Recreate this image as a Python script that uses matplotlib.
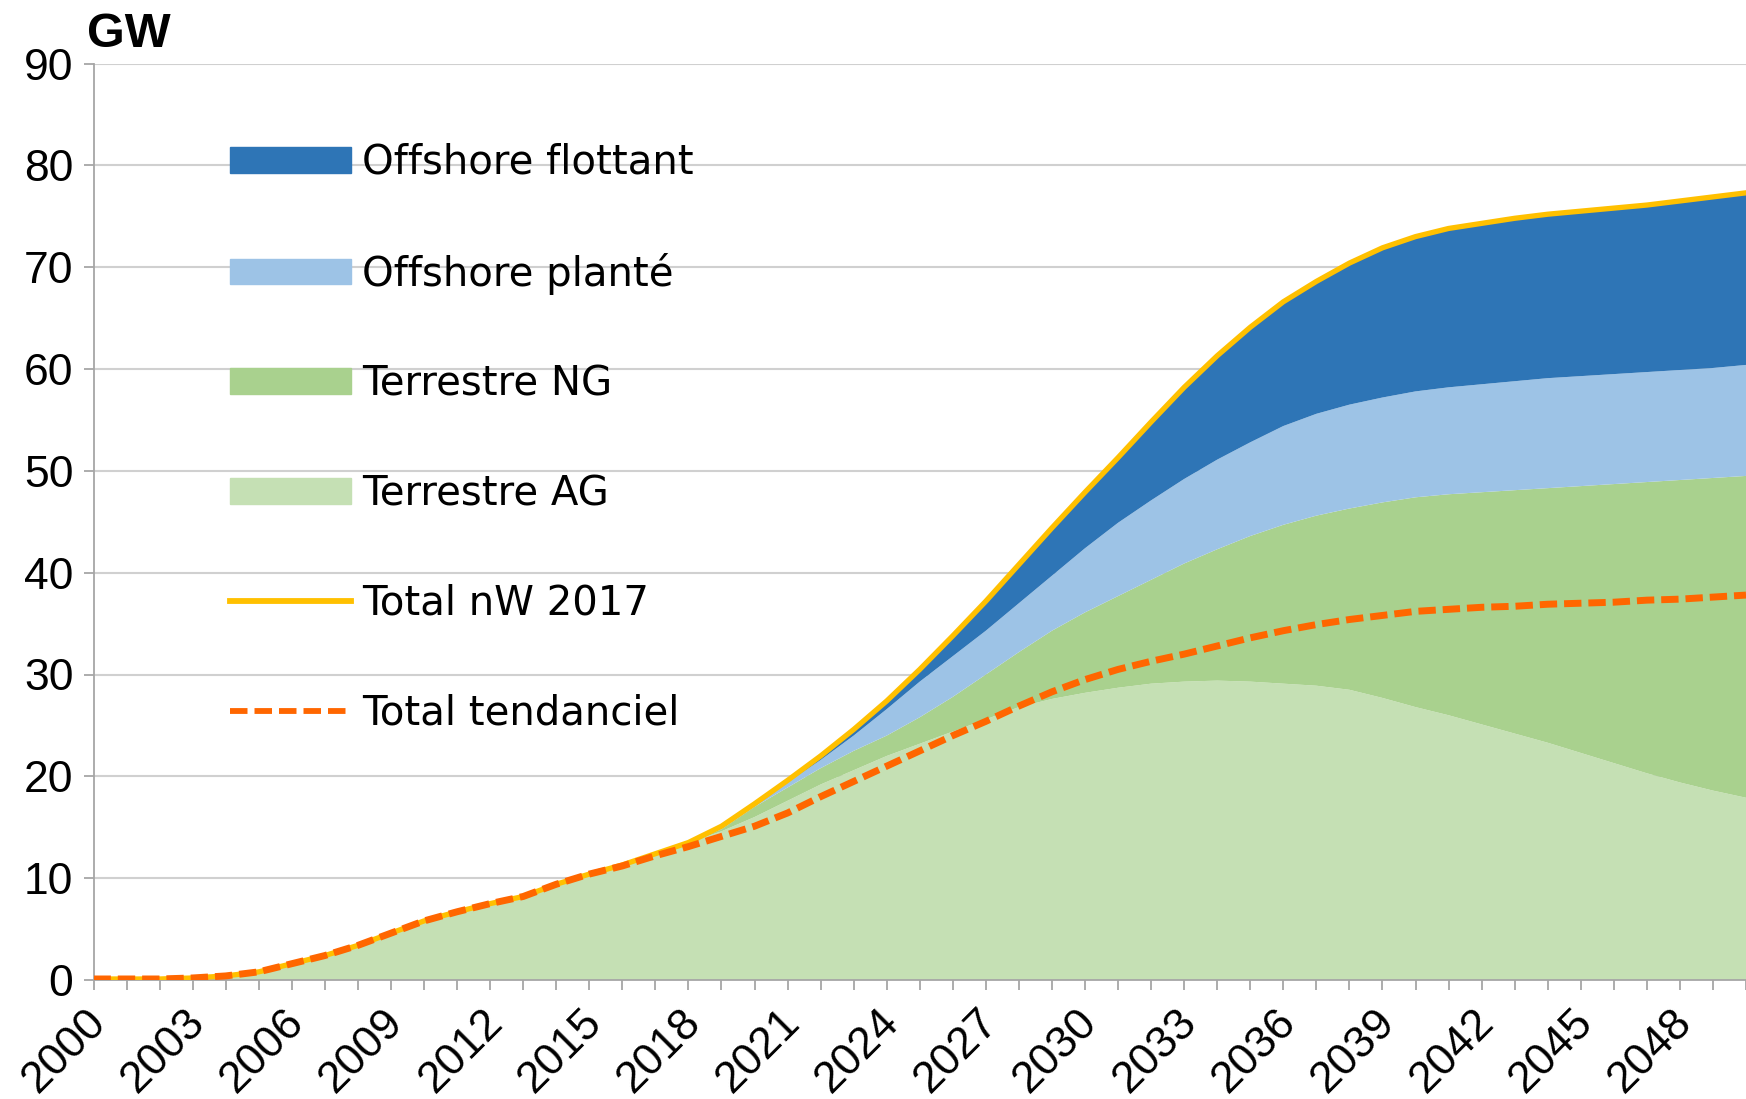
import numpy as np
import matplotlib
matplotlib.use("Agg")
import matplotlib.pyplot as plt
import matplotlib.transforms as mtransforms
from matplotlib.patches import Patch
from matplotlib.lines import Line2D

# years 2000..2050
years = list(range(2000, 2051))

# stacked layers (GW)
terrestre_ag = [0.1, 0.1, 0.1, 0.2, 0.4, 0.8, 1.6, 2.4, 3.4, 4.6,
                5.8, 6.7, 7.5, 8.2, 9.4, 10.4, 11.3, 12.4, 13.5, 14.6,
                16.0, 17.6, 19.2, 20.6, 22.0, 23.2, 24.4, 25.6, 26.8, 27.6,
                28.2, 28.7, 29.1, 29.3, 29.4, 29.3, 29.1, 28.9, 28.5, 27.7,
                26.8, 26.0, 25.1, 24.2, 23.3, 22.3, 21.3, 20.3, 19.4, 18.6,
                17.9]
terrestre_ng = [0, 0, 0, 0, 0, 0, 0, 0, 0, 0,
                0, 0, 0, 0, 0, 0, 0, 0, 0, 0.2,
                1.0, 1.3, 1.6, 1.9, 2.0, 2.6, 3.4, 4.4, 5.4, 6.7,
                7.9, 9.0, 10.2, 11.6, 12.9, 14.3, 15.6, 16.7, 17.8, 19.2,
                20.6, 21.7, 22.8, 23.9, 25.0, 26.2, 27.4, 28.6, 29.7, 30.7,
                31.6]
offshore_plante = [0, 0, 0, 0, 0, 0, 0, 0, 0, 0,
                   0, 0, 0, 0, 0, 0, 0, 0, 0, 0.1,
                   0.2, 0.5, 0.8, 1.5, 2.6, 3.5, 4.0, 4.3, 4.8, 5.4,
                   6.3, 7.2, 7.8, 8.3, 8.8, 9.2, 9.7, 10.0, 10.2, 10.3,
                   10.4, 10.5, 10.6, 10.7, 10.8, 10.8, 10.8, 10.8, 10.8, 10.8,
                   10.9]
offshore_flottant = [0, 0, 0, 0, 0, 0, 0, 0, 0, 0,
                     0, 0, 0, 0, 0, 0, 0, 0, 0, 0.2,
                     0.1, 0.2, 0.4, 0.6, 0.8, 1.2, 2.0, 2.9, 3.8, 4.7,
                     5.5, 6.4, 7.7, 9.0, 10.2, 11.3, 12.2, 13.0, 13.9, 14.7,
                     15.2, 15.6, 15.8, 16.0, 16.1, 16.2, 16.3, 16.4, 16.6, 16.8,
                     16.9]
total_tendanciel = [0.1, 0.1, 0.1, 0.2, 0.4, 0.8, 1.6, 2.4, 3.4, 4.6,
                    5.8, 6.7, 7.5, 8.2, 9.4, 10.4, 11.2, 12.2, 13.1, 14.1,
                    15.1, 16.4, 18.0, 19.5, 21.0, 22.5, 24.0, 25.4, 26.9, 28.3,
                    29.5, 30.5, 31.3, 32.0, 32.8, 33.6, 34.3, 34.9, 35.4, 35.8,
                    36.2, 36.4, 36.6, 36.7, 36.9, 37.0, 37.1, 37.3, 37.4, 37.6,
                    37.8]

labels = ["Offshore flottant", "Offshore planté", "Terrestre NG", "Terrestre AG",
          "Total nW 2017", "Total tendanciel"]
c_flottant = "#2E75B6"
c_plante = "#9DC3E6"
c_ng = "#A9D18E"
c_ag = "#C5E0B4"
c_total = "#FFC000"
c_tend = "#FF6600"

years = np.array(years)
total_nw = (np.array(terrestre_ag) + np.array(terrestre_ng)
            + np.array(offshore_plante) + np.array(offshore_flottant))

W, H = 1746, 1099
fig = plt.figure(figsize=(W / 100, H / 100), dpi=100)
ax = fig.add_axes([93.5 / W, (H - 980) / H, 1 - 93.5 / W, (980 - 63.5) / H])

ax.stackplot(years, terrestre_ag, terrestre_ng, offshore_plante, offshore_flottant,
             colors=[c_ag, c_ng, c_plante, c_flottant], linewidth=0, zorder=2)
ax.plot(years, total_nw, color=c_total, lw=3.8, zorder=3, solid_joinstyle="round")
ax.plot(years, total_tendanciel, color=c_tend, lw=5, dashes=(2.5, 1.0), zorder=4)

ax.set_xlim(2000, 2000 + (W - 93.5) / 33.3)
ax.set_ylim(0, 90)
ax.set_yticks(range(0, 91, 10))
ax.yaxis.grid(True, color="#D0D0D0", lw=1.5, zorder=0)
ax.set_axisbelow(True)

ax.set_xticks(range(2000, 2050, 3))
ax.set_xticks(range(2000, 2051), minor=True)
ax.set_xticklabels([str(y) for y in range(2000, 2050, 3)], rotation=45,
                   ha="right", va="center", rotation_mode="anchor")

for s in ["top", "right"]:
    ax.spines[s].set_visible(False)
for s in ["left", "bottom"]:
    ax.spines[s].set_color("#A6A6A6")
    ax.spines[s].set_linewidth(1.3)

for lab in ax.get_yticklabels() + ax.get_xticklabels():
    lab.set_fontfamily("Liberation Sans")
    lab.set_fontsize(32)
ax.tick_params(axis="y", length=7.5, width=1.3, color="#A6A6A6", pad=7)
ax.tick_params(axis="x", which="both", length=7.5, width=1.3, color="#A6A6A6", pad=15)

# nudge the rotated year labels a little right and down
shift = mtransforms.ScaledTranslation(6 / 100, -5 / 100, fig.dpi_scale_trans)
for lab in ax.get_xticklabels():
    lab.set_transform(lab.get_transform() + shift)

fig.text(87 / W, 1 - 47 / H, "GW", fontfamily="Liberation Sans", fontsize=35,
         fontweight="bold", va="baseline", ha="left")

handles = [Patch(color=c_flottant), Patch(color=c_plante), Patch(color=c_ng),
           Patch(color=c_ag), Line2D([], [], color=c_total, lw=4.2),
           Line2D([], [], color=c_tend, lw=4.2, dashes=(3.0, 1.2))]
leg = fig.legend(handles, labels, loc="upper left",
                 bbox_to_anchor=(230 / W, 1 - 143 / H), frameon=False,
                 prop=dict(family="DejaVu Sans", size=29),
                 handlelength=3.0, handleheight=0.6, handletextpad=0.28,
                 labelspacing=1.73, borderpad=0, borderaxespad=0)

fig.savefig("out.png", dpi=100)
